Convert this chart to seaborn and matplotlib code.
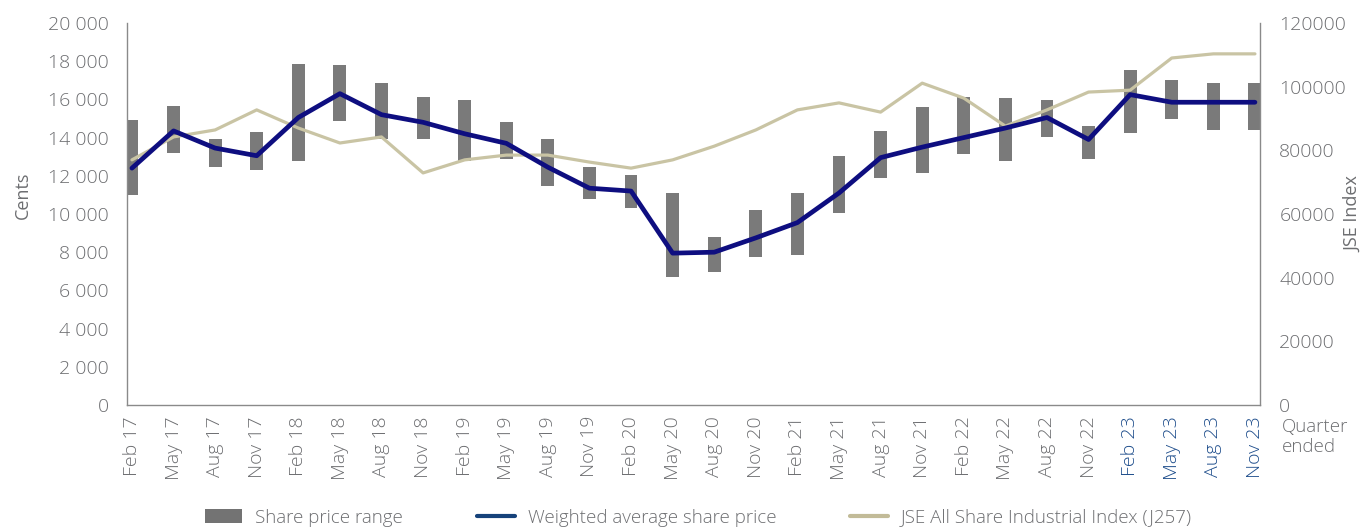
import numpy as np
import pandas as pd
import matplotlib
matplotlib.use("Agg")
import matplotlib.pyplot as plt
from matplotlib.patches import Patch
from matplotlib.lines import Line2D
import seaborn as sns

# Quarter-end labels
quarters = ["Feb 17", "May 17", "Aug 17", "Nov 17",
            "Feb 18", "May 18", "Aug 18", "Nov 18",
            "Feb 19", "May 19", "Aug 19", "Nov 19",
            "Feb 20", "May 20", "Aug 20", "Nov 20",
            "Feb 21", "May 21", "Aug 21", "Nov 21",
            "Feb 22", "May 22", "Aug 22", "Nov 22",
            "Feb 23", "May 23", "Aug 23", "Nov 23"]

# Share price range per quarter (cents)
price_high = [14900, 15650, 13900, 14300, 17850, 17800, 16850, 16150,
              15950, 14800, 13950, 12450, 12050, 11100, 8800, 10200,
              11100, 13050, 14350, 15600, 16150, 16050, 15950, 14600,
              17550, 17000, 16850, 16850]
price_low = [11000, 13200, 12450, 12300, 12800, 14850, 13900, 13900,
             12800, 12900, 11450, 10800, 10300, 6700, 6950, 7750,
             7850, 10050, 11900, 12150, 13150, 12750, 14050, 12900,
             14250, 14950, 14400, 14400]

# Weighted average share price (cents)
weighted_avg = [12400, 14350, 13450, 13050, 15050, 16300, 15200, 14800,
                14200, 13700, 12450, 11350, 11200, 7950, 8000, 8750,
                9550, 11100, 12950, 13500, 14000, 14500, 15050, 13900,
                16250, 15850, 15850, 15850]

# JSE All Share Industrial Index (J257)
jse_index = [77000, 84200, 86400, 92700, 87000, 82300, 84200, 72900,
             77000, 78500, 78500, 76300, 74400, 77000, 81300, 86400,
             92700, 94900, 92000, 101100, 96400, 87600, 92700, 98300,
             98900, 109000, 110300, 110300]

df = pd.DataFrame({
    "pos": np.arange(len(quarters)),
    "quarter": quarters,
    "high": price_high,
    "low": price_low,
    "wavg": weighted_avg,
    "jse": jse_index,
})

sns.set_theme(style="white")
plt.rcParams["font.family"] = ["Open Sans", "DejaVu Sans"]
plt.rcParams["font.weight"] = "light"

GREY_TXT = "#6d6e71"
BLUE_TXT = "#1f4e8c"
BAR_C = "#7a7a7a"
NAVY = "#0e0e80"
BEIGE = "#c9c4a4"
SPINE = "#8a8a8a"
TICK_FS = 14

fig = plt.figure(figsize=(13.68, 5.27), dpi=100)
ax = fig.add_axes([0.0928, 0.2315, 0.8282, 0.7249])

# Floating bars for the share price range
ax.bar(df["pos"], df["high"] - df["low"], bottom=df["low"], width=0.31,
       color=BAR_C, linewidth=0, zorder=2)
ax.set_ylim(0, 20000)
ax.set_xlim(-0.12, len(quarters) - 1 + 0.12)

# Index on the secondary axis
ax2 = ax.twinx()
sns.lineplot(data=df, x="pos", y="jse", ax=ax2, color=BEIGE, linewidth=2.3)
ax2.set_ylim(0, 120000)

# Weighted average price drawn on a layer above the index
ax3 = ax.twinx()
sns.lineplot(data=df, x="pos", y="wavg", ax=ax3, color=NAVY, linewidth=3.4)
ax3.set_ylim(0, 20000)
ax3.set_xlim(ax.get_xlim())
ax3.axis("off")

# Left axis
ax.set_yticks(np.arange(0, 20001, 2000))
ax.set_yticklabels([f"{v:,}".replace(",", " ") for v in range(0, 20001, 2000)])
ax.tick_params(axis="y", length=0, pad=13, labelsize=TICK_FS, labelcolor=GREY_TXT)
ax.set_ylabel("Cents", fontsize=13, color=GREY_TXT)
ax.yaxis.set_label_coords(-0.0838, 0.55)

# Bottom axis
ax.set_xticks(df["pos"])
ax.set_xticklabels(quarters, rotation=90, ha="center", va="top")
ax.tick_params(axis="x", length=0, pad=8, labelsize=TICK_FS)
for i, lab in enumerate(ax.get_xticklabels()):
    lab.set_color(BLUE_TXT if quarters[i].endswith("23") else GREY_TXT)
ax.set_xlabel("")

# Right axis
ax2.set_yticks(np.arange(0, 120001, 20000))
ax2.set_yticklabels([str(v) for v in range(0, 120001, 20000)])
ax2.tick_params(axis="y", length=0, pad=14, labelsize=TICK_FS, labelcolor=GREY_TXT)
ax2.set_ylabel("JSE Index", fontsize=13, color=GREY_TXT)
ax2.yaxis.set_label_coords(1.0745, 0.5)
ax2.set_xlabel("")

for a in (ax, ax2):
    for side in ("left", "right", "bottom"):
        a.spines[side].set_color(SPINE)
        a.spines[side].set_linewidth(1.0)
    a.spines["top"].set_visible(False)
ax.spines["right"].set_visible(False)
ax2.spines["left"].set_visible(False)
ax2.spines["bottom"].set_visible(False)
ax.grid(False)
ax2.grid(False)

fig.text(1282 / 1368, 1 - 418 / 527, "Quarter\nended", fontsize=13.5,
         color=GREY_TXT, ha="left", va="top", linespacing=1.15)

handles = [
    Patch(facecolor="#737373", edgecolor="none"),
    Line2D([], [], color="#16427a", linewidth=3),
    Line2D([], [], color="#c2bb98", linewidth=3),
]
labels = ["Share price range", "Weighted average share price",
          "JSE All Share Industrial Index (J257)"]
fig.legend(handles, labels, loc="lower center", bbox_to_anchor=(0.5105, -0.024),
           ncol=3, frameon=False, fontsize=13.5, labelcolor=GREY_TXT,
           handlelength=2.0, handleheight=0.8, handletextpad=0.7,
           columnspacing=3.95, borderpad=0.2)

fig.savefig("out.png", dpi=100)
